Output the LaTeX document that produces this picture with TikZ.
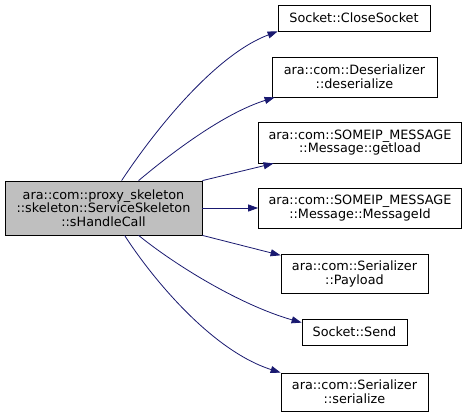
\documentclass[tikz,border=0pt]{standalone}
\usepackage{fontspec}
\setmainfont{DejaVu Sans}
\usepackage{xcolor}
\usepackage{tikz}
\usetikzlibrary{arrows.meta, positioning, calc}
\definecolor{DoxEdgeBlue}{RGB}{25, 25, 112}
\definecolor{DoxNodeGray}{RGB}{191, 191, 191}
\definecolor{DoxBorder}{RGB}{0, 0, 0}

\begin{document}
\begin{tikzpicture}[x=1pt,y=-1pt,
  fnbox/.style={draw=DoxBorder, line width=0.8pt, fill=white, align=center,
    font=\fontsize{12.8}{13.7}\selectfont, inner xsep=10pt, inner ysep=6.8pt},
  fnmain/.style={fnbox, fill=DoxNodeGray},
  callarrow/.style={DoxEdgeBlue, line width=0.8pt, -{Triangle[length=10pt,width=7pt]}}]
  \path[use as bounding box] (0,0) rectangle (464,417);
  \fill[white] (0,0) rectangle (464,417);

  % Caller
  \node[fnmain, minimum width=197pt, minimum height=54pt] (main) at (103.5,208)
    {ara::com::proxy\_skeleton\\::skeleton::ServiceSkeleton\\::sHandleCall};

  % Callees
  \node[fnbox, minimum width=152pt, minimum height=26pt] (close) at (354,18) {Socket::CloseSocket};
  \node[fnbox, minimum width=165pt, minimum height=40pt] (deser) at (354.5,77) {ara::com::Deserializer\\::deserialize};
  \node[fnbox, minimum width=200pt, minimum height=41pt] (getload) at (360,142.5) {ara::com::SOMEIP\_MESSAGE\\::Message::getload};
  \node[fnbox, minimum width=200pt, minimum height=40pt] (msgid) at (360,208) {ara::com::SOMEIP\_MESSAGE\\::Message::MessageId};
  \node[fnbox, minimum width=147pt, minimum height=38pt] (payload) at (354.5,274) {ara::com::Serializer\\::Payload};
  \node[fnbox, minimum width=105pt, minimum height=26pt] (send) at (354.5,332) {Socket::Send};
  \node[fnbox, minimum width=147pt, minimum height=38pt] (serialize) at (354.5,392) {ara::com::Serializer\\::serialize};

  % Calls
  \draw[callarrow] ($(main.north west)+(117,0)$) .. controls (155,130) and (215,55) .. (close.south west);
  \draw[callarrow] ($(main.north west)+(134,0)$) .. controls (175,150) and (225,113) .. ($(deser.south west)+(3,0)$);
  \draw[callarrow] (main.north east) -- (getload);
  \draw[callarrow] (main.east) -- (msgid.west);
  \draw[callarrow] (main.south east) -- (payload);
  \draw[callarrow] ($(main.south west)+(134,0)$) .. controls (175,265) and (240,305) .. ($(send.north west)+(0,4)$);
  \draw[callarrow] ($(main.south west)+(120,0)$) .. controls (150,275) and (210,350) .. (serialize.north west);
\end{tikzpicture}
\end{document}
